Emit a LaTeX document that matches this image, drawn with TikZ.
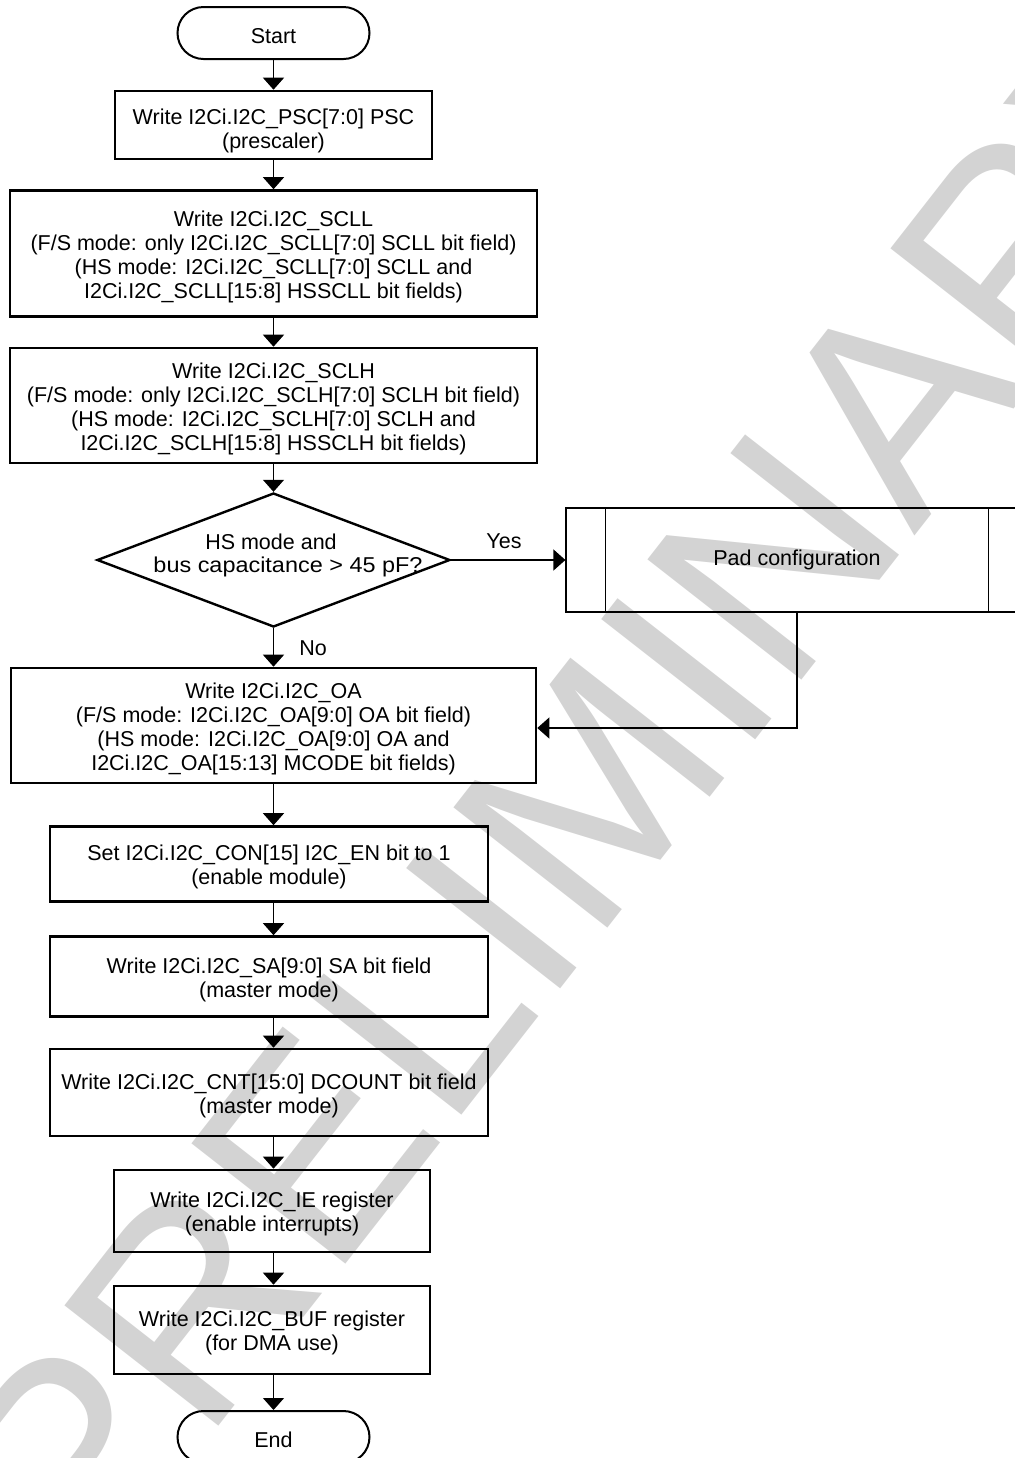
\documentclass[tikz,border=0pt]{standalone}
\usepackage{fontspec}
\usepackage{graphicx}
\setmainfont{Liberation Sans}
\usetikzlibrary{shapes.geometric,arrows.meta}
\definecolor{wm}{RGB}{211,211,211}
\newcommand{\tst}{\rule{0pt}{10.8pt}}
\begin{document}
\begin{tikzpicture}[x=0.5pt,y=-0.5pt,
  every node/.style={font=\fontsize{10.75pt}{12pt}\selectfont, align=center, inner sep=0pt},
  box/.style 2 args={draw, line width=1.3pt, minimum width=#1, minimum height=#2},
  term/.style={draw, line width=1pt, minimum width=96pt, minimum height=26pt, rounded corners=13pt, text height=10.5pt, text depth=0.2pt},
  conn/.style={line width=0.6pt, -{Triangle[width=10.5pt,length=6pt]}},
  line/.style={text height=7.7pt, text depth=2.3pt},
  lbl/.style={}
]
\useasboundingbox (0,0) rectangle (1015,1458);
% watermark
\node[text=wm, font=\fontsize{142pt}{142pt}\selectfont, rotate=52, anchor=base west] (wmark) at (88,1594) {PRELIMINARY};

\node[term] (start) at (273.5,33) {Start};
\node[box={158.5pt}{34pt}] (psc) at (273.5,125) {\rule{0pt}{14pt}Write I2Ci.I2C\_PSC[7:0] PSC\\(prescaler)};
\node[box={263.5pt}{63pt}] (scll) at (273.5,253.5) {\tst Write I2Ci.I2C\_SCLL\\(F/S mode: only I2Ci.I2C\_SCLL[7:0] SCLL bit field)\\(HS mode: I2Ci.I2C\_SCLL[7:0] SCLL and\\I2Ci.I2C\_SCLL[15:8] HSSCLL bit fields)};
\node[box={263.5pt}{57.5pt}] (sclh) at (273.5,405.5) {\tst Write I2Ci.I2C\_SCLH\\(F/S mode: only I2Ci.I2C\_SCLH[7:0] SCLH bit field)\\(HS mode: I2Ci.I2C\_SCLH[7:0] SCLH and\\I2Ci.I2C\_SCLH[15:8] HSSCLH bit fields)};
\node[draw, shape=diamond, line width=1.2pt, minimum width=176.5pt, minimum height=67pt] (dia) at (273.5,560) {};
\node[line] (dtext1) at (271,544.3) {HS mode and};
\node[line] (dtext2) at (288,567.3) {\scalebox{1.09}[1]{bus capacitance > 45 pF?}};
\node[draw, line width=0.6pt, minimum width=231pt, minimum height=52pt] (pad) at (797,560) {Pad configuration};
\draw[line width=0.6pt] ([xshift=20pt]pad.north west) -- ([xshift=20pt]pad.south west);
\draw[line width=0.6pt] ([xshift=-20pt]pad.north east) -- ([xshift=-20pt]pad.south east);
\node[box={262.5pt}{57.5pt}] (oa) at (273.5,725.5) {\tst Write I2Ci.I2C\_OA\\(F/S mode: I2Ci.I2C\_OA[9:0] OA bit field)\\(HS mode: I2Ci.I2C\_OA[9:0] OA and\\I2Ci.I2C\_OA[15:13] MCODE bit fields)};
\node[box={219pt}{37.5pt}] (con) at (269,864) {\tst Set I2Ci.I2C\_CON[15] I2C\_EN bit to 1\\(enable module)};
\node[box={219pt}{40pt}] (sa) at (269,976.5) {\tst Write I2Ci.I2C\_SA[9:0] SA bit field\\(master mode)};
\node[box={219pt}{43.5pt}] (cnt) at (269,1092.5) {\tst Write I2Ci.I2C\_CNT[15:0] DCOUNT bit field\\(master mode)};
\node[box={158pt}{41pt}] (ie) at (272,1211) {\tst Write I2Ci.I2C\_IE register\\(enable interrupts)};
\node[box={158pt}{44pt}] (buf) at (272,1330) {\tst Write I2Ci.I2C\_BUF register\\(for DMA use)};
\node[term] (end) at (273.5,1437) {End};

\node[lbl] (yes) at (504,541) {Yes};
\node[lbl] (no) at (313,648) {No};

\draw[conn] (start) -- (psc);
\draw[conn] (psc) -- (scll);
\draw[conn] (scll) -- (sclh);
\draw[conn] (sclh) -- (dia);
\draw[conn] (dia.east) -- (pad.west);
\draw[conn] (dia.south) -- (oa.north);
\draw[conn] (pad.south) |- ([yshift=-1.25pt]oa.east);
\draw[conn] (oa.south) -- (oa.south |- con.north);
\draw[conn] (con.south -| oa.south) -- (oa.south |- sa.north);
\draw[conn] (sa.south -| oa.south) -- (oa.south |- cnt.north);
\draw[conn] (cnt.south -| oa.south) -- (oa.south |- ie.north);
\draw[conn] (ie.south -| oa.south) -- (oa.south |- buf.north);
\draw[conn] (buf.south -| oa.south) -- (end.north);
\end{tikzpicture}
\end{document}
